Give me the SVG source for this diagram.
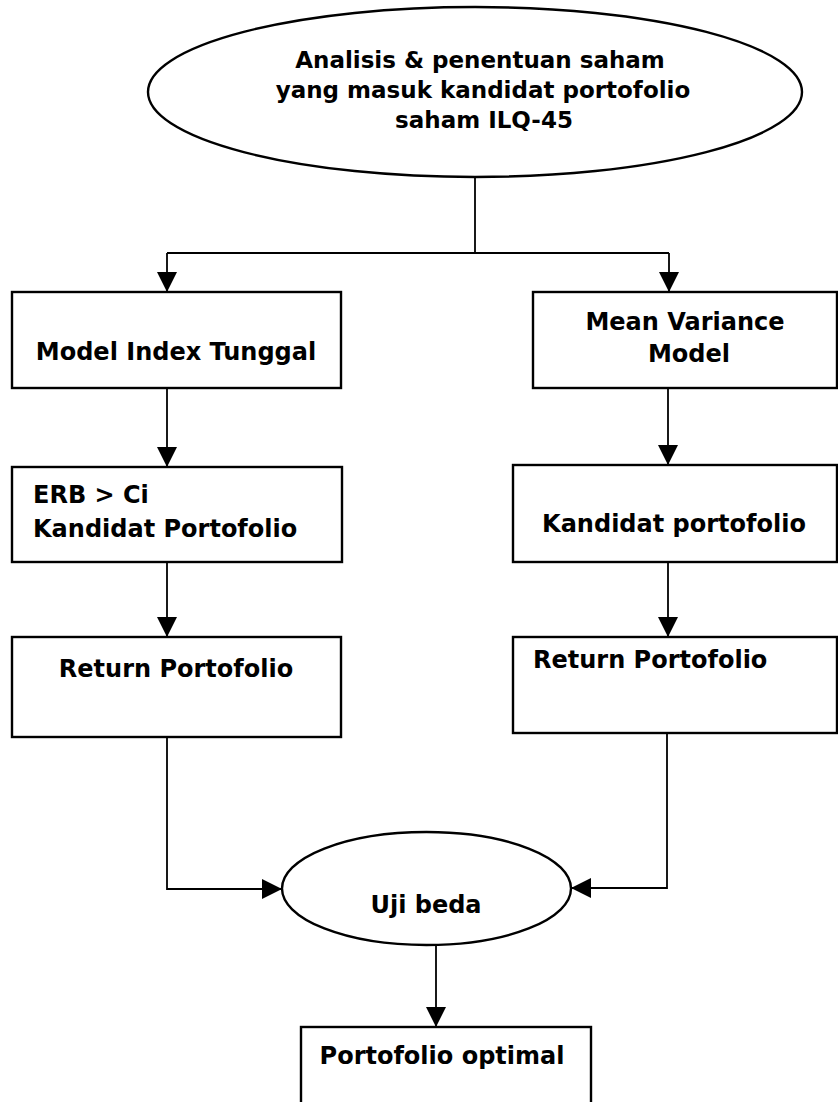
<svg xmlns="http://www.w3.org/2000/svg" width="838" height="1102" viewBox="0 0 838 1102">
<style>
  .shape { fill: #ffffff; stroke: #000000; stroke-width: 2.4; }
  .conn { fill: none; stroke: #000000; stroke-width: 1.8; }
  .t { font-family: "DejaVu Sans", "Liberation Sans", sans-serif; font-weight: bold; font-size: 24px; fill: #000000; }
  .top { font-size: 23px; }
  .c { text-anchor: middle; }
</style>
<defs>
  <marker id="arr" markerUnits="userSpaceOnUse" markerWidth="20" markerHeight="20" viewBox="0 0 20 20" refX="20" refY="10" orient="auto">
    <path d="M0,0 L20,10 L0,20 Z" fill="#000000"/>
  </marker>
</defs>
<rect width="838" height="1102" fill="#ffffff"/>
<g id="connectors">
  <path class="conn" d="M475,177 V253"/>
  <path class="conn" d="M167,253 H669"/>
  <path class="conn" d="M167,253 V292" marker-end="url(#arr)"/>
  <path class="conn" d="M669,253 V292" marker-end="url(#arr)"/>
  <path class="conn" d="M167,388 V467" marker-end="url(#arr)"/>
  <path class="conn" d="M668,388 V465" marker-end="url(#arr)"/>
  <path class="conn" d="M167,562 V637" marker-end="url(#arr)"/>
  <path class="conn" d="M668,562 V637" marker-end="url(#arr)"/>
  <path class="conn" d="M167,737 V889 H282" marker-end="url(#arr)"/>
  <path class="conn" d="M667,733 V888 H571" marker-end="url(#arr)"/>
  <path class="conn" d="M436,946 V1027" marker-end="url(#arr)"/>
</g>
<g id="node-analisis">
  <ellipse class="shape" cx="475" cy="92" rx="327" ry="85"/>
  <text class="t top c" x="480" y="68">Analisis &amp; penentuan saham</text>
  <text class="t top c" x="483" y="98">yang masuk kandidat portofolio</text>
  <text class="t top c" x="484" y="128">saham ILQ-45</text>
</g>
<g id="node-model-index">
  <rect class="shape" x="12" y="292" width="329" height="96"/>
  <text class="t c" x="176" y="360">Model Index Tunggal</text>
</g>
<g id="node-mean-variance">
  <rect class="shape" x="533" y="292" width="304" height="96"/>
  <text class="t c" x="685" y="330">Mean Variance</text>
  <text class="t c" x="689" y="362">Model</text>
</g>
<g id="node-erb">
  <rect class="shape" x="12" y="467" width="330" height="95"/>
  <text class="t" x="33" y="503">ERB &gt; Ci</text>
  <text class="t" x="33" y="537">Kandidat Portofolio</text>
</g>
<g id="node-kandidat">
  <rect class="shape" x="513" y="465" width="324" height="97"/>
  <text class="t c" x="674" y="532">Kandidat portofolio</text>
</g>
<g id="node-return-left">
  <rect class="shape" x="12" y="637" width="329" height="100"/>
  <text class="t c" x="176" y="677">Return Portofolio</text>
</g>
<g id="node-return-right">
  <rect class="shape" x="513" y="637" width="324" height="96"/>
  <text class="t" x="533" y="668">Return Portofolio</text>
</g>
<g id="node-uji-beda">
  <ellipse class="shape" cx="426.5" cy="888.5" rx="144.5" ry="56.5"/>
  <text class="t c" x="426" y="913">Uji beda</text>
</g>
<g id="node-portofolio-optimal">
  <rect class="shape" x="301" y="1027" width="290" height="90"/>
  <text class="t c" x="442" y="1064">Portofolio optimal</text>
</g>
</svg>
